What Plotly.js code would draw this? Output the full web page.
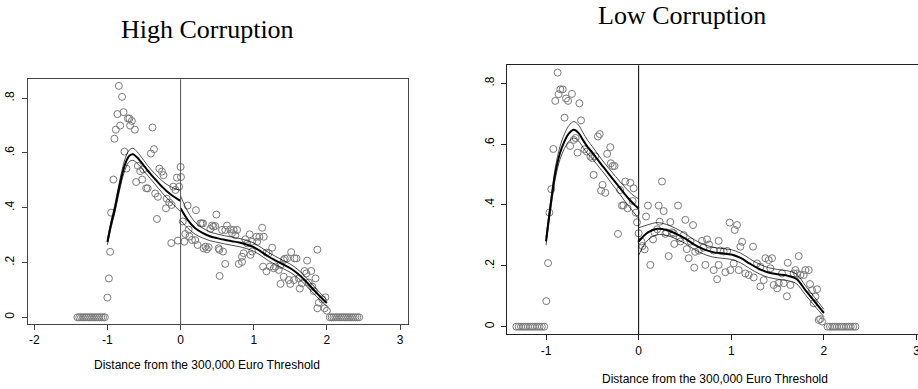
<!DOCTYPE html>
<html><head><meta charset="utf-8">
<script src="https://cdn.plot.ly/plotly-3.0.1.min.js"></script>
<style>html,body{margin:0;padding:0;overflow:hidden;background:#fff}#chart{width:940px;height:389px}</style>
</head><body><div id="chart"></div>
<script>
// ---------- High Corruption: binned scatter ----------
const highX = [
 -1.41,-1.385,-1.36,-1.335,-1.31,-1.285,-1.26,-1.235,-1.21,-1.185,-1.16,-1.135,-1.11,-1.085,-1.06,-1.035,
 -1.0,-0.98,-0.963,-0.95,-0.918,-0.904,-0.885,-0.863,-0.844,-0.826,-0.80,-0.78,-0.767,-0.74,-0.72,-0.70,-0.69,-0.666,-0.625,-0.607,-0.584,-0.552,-0.525,-0.511,-0.47,-0.45,-0.406,-0.384,-0.364,-0.347,-0.323,-0.31,-0.29,-0.255,-0.233,-0.2,-0.19,-0.155,-0.127,-0.123,-0.1,-0.07,-0.05,-0.036,-0.02,
 0.0,0.005,0.03,0.05,0.064,0.096,0.11,0.123,0.156,0.2,0.21,0.233,0.27,0.29,0.307,0.315,0.34,0.36,0.384,0.407,0.43,0.45,0.475,0.489,0.52,0.53,0.534,0.567,0.58,0.612,0.61,0.635,0.68,0.704,0.726,0.749,0.772,0.795,0.84,0.84,0.863,0.886,0.91,0.945,0.955,0.978,0.978,1.037,1.047,1.078,1.115,1.128,1.137,1.174,1.174,1.205,1.22,1.252,1.274,1.297,1.342,1.366,1.366,1.41,1.41,1.425,1.457,1.48,1.5,1.512,1.55,1.558,1.585,1.617,1.63,1.66,1.695,1.718,1.73,1.753,1.786,1.8,1.82,1.845,1.87,1.87,1.89,1.937,1.97,1.98,2.0,
 2.04,2.065,2.09,2.115,2.14,2.165,2.19,2.215,2.24,2.265,2.29,2.315,2.34,2.365,2.39,2.415,2.44
];
const highY = [
 0,0,0,0,0,0,0,0,0,0,0,0,0,0,0,0,
 0.072,0.142,0.239,0.382,0.503,0.652,0.685,0.742,0.845,0.70,0.805,0.749,0.605,0.543,0.726,0.726,0.70,0.717,0.685,0.494,0.553,0.534,0.503,0.54,0.471,0.471,0.598,0.693,0.614,0.452,0.359,0.44,0.543,0.532,0.519,0.398,0.433,0.419,0.271,0.41,0.477,0.465,0.51,0.28,0.477,
 0.549,0.512,0.35,0.276,0.304,0.408,0.32,0.295,0.282,0.282,0.391,0.264,0.343,0.343,0.343,0.252,0.258,0.248,0.256,0.323,0.335,0.331,0.333,0.375,0.252,0.246,0.151,0.319,0.24,0.319,0.195,0.335,0.321,0.307,0.319,0.3,0.319,0.195,0.202,0.221,0.234,0.285,0.27,0.303,0.228,0.276,0.24,0.294,0.276,0.294,0.327,0.185,0.294,0.168,0.236,0.234,0.185,0.254,0.179,0.185,0.173,0.191,0.122,0.209,0.148,0.214,0.215,0.136,0.122,0.238,0.136,0.215,0.215,0.142,0.105,0.124,0.169,0.16,0.207,0.127,0.169,0.112,0.096,0.142,0.247,0.033,0.053,0.066,0.033,0.073,0.024,
 0,0,0,0,0,0,0,0,0,0,0,0,0,0,0,0,0
];

// ---------- High Corruption: polynomial fit and 95% CI ----------
const highFitLX   = [-1,-0.95,-0.9,-0.85,-0.8,-0.75,-0.7,-0.65,-0.6,-0.55,-0.5,-0.45,-0.4,-0.35,-0.3,-0.25,-0.2,-0.15,-0.1,-0.05,0];
const highFitLMid = [0.275,0.34,0.395,0.46,0.52,0.565,0.59,0.595,0.585,0.57,0.553,0.536,0.52,0.505,0.49,0.476,0.463,0.452,0.442,0.433,0.425];
const highFitLHi  = [0.285,0.352,0.409,0.476,0.538,0.585,0.611,0.617,0.606,0.59,0.572,0.554,0.538,0.524,0.51,0.498,0.487,0.479,0.472,0.467,0.465];
const highFitLLo  = [0.265,0.328,0.381,0.444,0.502,0.545,0.569,0.573,0.564,0.55,0.534,0.518,0.502,0.486,0.47,0.454,0.439,0.425,0.412,0.399,0.385];
const highFitRX   = [0,0.1,0.2,0.3,0.4,0.5,0.6,0.7,0.8,0.9,1.0,1.1,1.2,1.3,1.4,1.5,1.6,1.7,1.8,1.9,2.0];
const highFitRMid = [0.398,0.355,0.325,0.308,0.296,0.289,0.283,0.278,0.273,0.266,0.256,0.24,0.222,0.207,0.193,0.179,0.16,0.135,0.106,0.078,0.052];
const highFitRHi  = [0.443,0.385,0.347,0.326,0.312,0.304,0.298,0.293,0.288,0.281,0.271,0.255,0.237,0.222,0.208,0.194,0.175,0.15,0.12,0.091,0.064];
const highFitRLo  = [0.353,0.325,0.303,0.29,0.28,0.274,0.268,0.263,0.258,0.251,0.241,0.225,0.207,0.192,0.178,0.164,0.145,0.12,0.092,0.065,0.04];

// ---------- Low Corruption: binned scatter ----------
const lowX = [
 -1.32,-1.295,-1.27,-1.245,-1.22,-1.195,-1.17,-1.145,-1.12,-1.095,-1.07,-1.045,-1.02,
 -0.997,-0.978,-0.964,-0.943,-0.921,-0.9,-0.875,-0.864,-0.846,-0.82,-0.8,-0.784,-0.762,-0.74,-0.72,-0.70,-0.68,-0.66,-0.64,-0.622,-0.585,-0.56,-0.52,-0.5,-0.486,-0.47,-0.44,-0.42,-0.406,-0.39,-0.36,-0.34,-0.306,-0.3,-0.28,-0.26,-0.223,-0.2,-0.18,-0.165,-0.144,-0.12,-0.09,-0.065,-0.054,-0.03,-0.018,
 0.0,0.03,0.04,0.065,0.08,0.10,0.126,0.155,0.17,0.2,0.216,0.227,0.252,0.27,0.288,0.3,0.324,0.342,0.36,0.378,0.385,0.425,0.44,0.45,0.486,0.504,0.52,0.54,0.56,0.587,0.6,0.61,0.65,0.684,0.70,0.72,0.738,0.76,0.81,0.81,0.847,0.864,0.864,0.882,0.918,0.936,0.955,0.983,0.99,1.026,1.037,1.062,1.08,1.098,1.117,1.152,1.188,1.235,1.242,1.278,1.314,1.314,1.35,1.368,1.404,1.422,1.44,1.458,1.495,1.512,1.548,1.566,1.6,1.61,1.638,1.674,1.692,1.71,1.728,1.746,1.782,1.8,1.836,1.85,1.872,1.89,1.908,1.926,1.944,1.96,1.98,
 2.04,2.065,2.09,2.115,2.14,2.165,2.19,2.215,2.24,2.265,2.29,2.315,2.34
];
const lowY = [
 0,0,0,0,0,0,0,0,0,0,0,0,0,
 0.084,0.209,0.375,0.452,0.584,0.742,0.835,0.764,0.78,0.78,0.687,0.75,0.742,0.594,0.765,0.614,0.62,0.572,0.734,0.678,0.583,0.575,0.559,0.554,0.499,0.56,0.625,0.633,0.447,0.466,0.44,0.568,0.59,0.537,0.528,0.528,0.305,0.449,0.398,0.399,0.477,0.389,0.473,0.413,0.455,0.375,0.343,
 0.307,0.28,0.265,0.254,0.362,0.398,0.203,0.287,0.31,0.32,0.398,0.345,0.477,0.38,0.305,0.31,0.232,0.344,0.31,0.307,0.272,0.398,0.29,0.28,0.301,0.351,0.255,0.225,0.28,0.334,0.194,0.246,0.25,0.282,0.26,0.203,0.287,0.27,0.25,0.186,0.156,0.203,0.282,0.25,0.247,0.179,0.249,0.342,0.186,0.208,0.318,0.334,0.186,0.263,0.279,0.175,0.17,0.263,0.162,0.208,0.197,0.132,0.153,0.225,0.219,0.192,0.225,0.137,0.126,0.143,0.175,0.143,0.1,0.21,0.137,0.175,0.186,0.175,0.232,0.17,0.17,0.186,0.186,0.14,0.12,0.077,0.099,0.123,0.022,0.025,0.017,
 0,0,0,0,0,0,0,0,0,0,0,0,0
];

// ---------- Low Corruption: polynomial fit and 95% CI ----------
const lowFitLX   = [-1,-0.95,-0.9,-0.85,-0.8,-0.75,-0.7,-0.65,-0.6,-0.55,-0.5,-0.45,-0.4,-0.35,-0.3,-0.25,-0.2,-0.15,-0.1,-0.05,0];
const lowFitLMid = [0.28,0.4,0.504,0.57,0.61,0.636,0.647,0.637,0.613,0.59,0.572,0.552,0.532,0.513,0.493,0.474,0.455,0.436,0.418,0.402,0.388];
const lowFitLHi  = [0.292,0.415,0.522,0.591,0.634,0.662,0.674,0.663,0.637,0.612,0.592,0.571,0.55,0.531,0.512,0.494,0.476,0.459,0.443,0.43,0.42];
const lowFitLLo  = [0.268,0.385,0.486,0.549,0.586,0.61,0.62,0.611,0.589,0.568,0.552,0.533,0.514,0.495,0.474,0.454,0.434,0.413,0.393,0.374,0.356];
const lowFitRX   = [0,0.1,0.2,0.3,0.4,0.5,0.6,0.7,0.8,0.9,1.0,1.1,1.2,1.3,1.4,1.5,1.6,1.7,1.8,1.9,2.0];
const lowFitRMid = [0.28,0.31,0.322,0.318,0.306,0.29,0.27,0.255,0.245,0.241,0.237,0.226,0.207,0.19,0.178,0.172,0.168,0.158,0.12,0.082,0.045];
const lowFitRHi  = [0.325,0.335,0.342,0.336,0.323,0.306,0.286,0.271,0.261,0.257,0.253,0.242,0.223,0.206,0.194,0.188,0.184,0.174,0.135,0.096,0.057];
const lowFitRLo  = [0.235,0.285,0.302,0.3,0.289,0.274,0.254,0.239,0.229,0.225,0.221,0.21,0.191,0.174,0.162,0.156,0.152,0.142,0.105,0.068,0.033];

// ---------- Axis ticks / labels ----------
const xTickVals = [-2,-1,0,1,2,3];
const yTickVals = [0,0.2,0.4,0.6,0.8];
const yTickText = ['0','.2','.4','.6','.8'];
const panelTitles = ['High Corruption','Low Corruption'];
const xAxisTitle = 'Distance from the 300,000 Euro Threshold';

const W = 940, H = 389;
const px = v => v / W, py = v => 1 - v / H;

const markerStyle = {symbol:'circle-open', size:7, color:'#7a7a7a', line:{width:1, color:'#7a7a7a'}};
function pts(x, y, ax){ return {type:'scatter', mode:'markers', x, y, xaxis:ax[0], yaxis:ax[1], marker:markerStyle, hoverinfo:'skip'}; }
function ln(x, y, ax, w){ return {type:'scatter', mode:'lines', x, y, xaxis:ax[0], yaxis:ax[1], line:{color:'#000', width:w, shape:'spline', smoothing:1}, hoverinfo:'skip'}; }

const A1 = ['x','y'], A2 = ['x2','y2'];
const data = [
  pts(highX, highY, A1),
  ln(highFitLX, highFitLHi, A1, 0.7), ln(highFitLX, highFitLLo, A1, 0.7),
  ln(highFitRX, highFitRHi, A1, 0.7), ln(highFitRX, highFitRLo, A1, 0.7),
  ln(highFitLX, highFitLMid, A1, 2), ln(highFitRX, highFitRMid, A1, 2),
  pts(lowX, lowY, A2),
  ln(lowFitLX, lowFitLHi, A2, 0.7), ln(lowFitLX, lowFitLLo, A2, 0.7),
  ln(lowFitRX, lowFitRHi, A2, 0.7), ln(lowFitRX, lowFitRLo, A2, 0.7),
  ln(lowFitLX, lowFitLMid, A2, 2), ln(lowFitRX, lowFitRMid, A2, 2)
];

const tickFont = {family:'Liberation Sans, Arial, sans-serif', size:12, color:'#000'};
function xax(domain, range, color){
  return {domain, range, tickvals:xTickVals, ticktext:xTickVals.map(String), ticks:'outside', ticklen:5, tickcolor:color,
    showline:true, mirror:true, linecolor:color, linewidth:1, showgrid:false, zeroline:false, tickfont:tickFont, ticklabelstandoff:0, fixedrange:true};
}
function yax(domain, range, color, anchor){
  return {domain, range, anchor, tickvals:yTickVals, ticktext:yTickText, ticks:'outside', ticklen:5, tickcolor:color, tickangle:-90,
    showline:true, mirror:true, linecolor:color, linewidth:1, showgrid:false, zeroline:false, tickfont:tickFont, ticklabelstandoff:3, fixedrange:true};
}

const layout = {
  width:W, height:H, margin:{l:0,r:0,t:0,b:0}, showlegend:false,
  paper_bgcolor:'#fff', plot_bgcolor:'#fff',
  xaxis: Object.assign(xax([px(27.7), px(407.7)], [-2.09, 3.105], '#444'), {anchor:'y'}),
  yaxis: yax([1-324/H, 1-79.3/H], [-0.0245, 0.869], '#444', 'x'),
  xaxis2: Object.assign(xax([px(507.3), px(926)], [-1.418, 3.102], '#222'), {anchor:'y2'}),
  yaxis2: yax([1-334.3/H, 1-65.3/H], [-0.025, 0.859], '#222', 'x2'),
  shapes: [
    {type:'line', xref:'x', yref:'y domain', x0:0, x1:0, y0:0, y1:1, line:{color:'#555', width:1}},
    {type:'line', xref:'x2', yref:'y2 domain', x0:0, x1:0, y0:0, y1:1, line:{color:'#000', width:1}}
  ],
  annotations: [
    {text:panelTitles[0], xref:'paper', yref:'paper', x:px(207), y:py(30), xanchor:'center', yanchor:'middle', showarrow:false,
     font:{family:'Liberation Serif, Times New Roman, serif', size:26, color:'#000'}},
    {text:panelTitles[1], xref:'paper', yref:'paper', x:px(682), y:py(15), xanchor:'center', yanchor:'middle', showarrow:false,
     font:{family:'Liberation Serif, Times New Roman, serif', size:26, color:'#000'}},
    {text:xAxisTitle, xref:'paper', yref:'paper', x:px(206.5), y:py(365), xanchor:'center', yanchor:'middle', showarrow:false,
     font:{family:'Liberation Sans, Arial, sans-serif', size:12, color:'#000'}},
    {text:xAxisTitle, xref:'paper', yref:'paper', x:px(714.5), y:py(379), xanchor:'center', yanchor:'middle', showarrow:false,
     font:{family:'Liberation Sans, Arial, sans-serif', size:12, color:'#000'}}
  ]
};

Plotly.newPlot('chart', data, layout, {displayModeBar:false, staticPlot:true});
</script>
</body></html>
